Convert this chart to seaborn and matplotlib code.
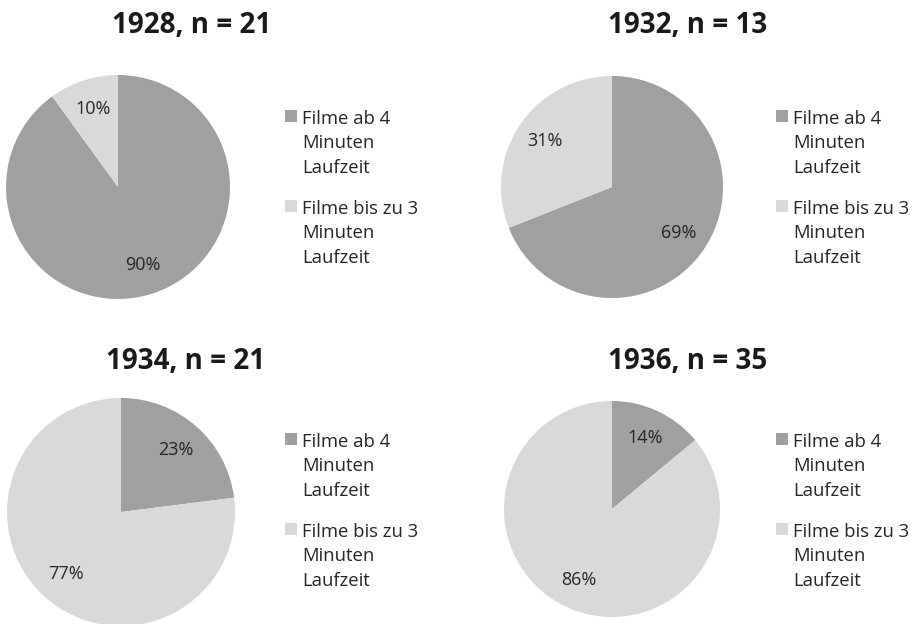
import matplotlib
matplotlib.use("Agg")
import matplotlib.pyplot as plt
from matplotlib.patches import Rectangle
import seaborn as sns

# ---- data ----
years = ["1928", "1932", "1934", "1936"]
n_values = [21, 13, 21, 35]
long_films_pct = [90, 69, 23, 14]    # Filme ab 4 Minuten Laufzeit
short_films_pct = [10, 31, 77, 86]   # Filme bis zu 3 Minuten Laufzeit
categories = ["Filme ab 4\nMinuten\nLaufzeit", "Filme bis zu 3\nMinuten\nLaufzeit"]

# ---- style ----
sns.set_theme(style="white")
plt.rcParams["font.family"] = ["Open Sans", "DejaVu Sans"]
colors = sns.color_palette(["#a0a0a0", "#d9d9d9"])
TEXT = "#262626"

W, H = 919, 624
fig = plt.figure(figsize=(W / 100, H / 100), dpi=100)
fig.patch.set_facecolor("white")

def fx(x):
    return x / W

def fy(y):
    return 1 - y / H

LINE = 25.5  # legend line step in px

# layout per panel (pixel positions): pie centre, radius, title centre/baseline, legend x, legend baseline
panels = [
    dict(cx=118, cy=187, r=112, tx=192, ty=33, lx=285, ly=122),
    dict(cx=612, cy=187, r=111, tx=688, ty=33, lx=776, ly=122),
    dict(cx=121, cy=512, r=114, tx=186, ty=369, lx=285, ly=445),
    dict(cx=612, cy=509, r=108, tx=688, ty=369, lx=776, ly=445),
]

for i, p in enumerate(panels):
    cx, cy, r = p["cx"], p["cy"], p["r"]
    ax = fig.add_axes([fx(cx - r), fy(cy + r), 2 * r / W, 2 * r / H])
    vals = [long_films_pct[i], short_films_pct[i]]
    wedges, texts, autotexts = ax.pie(
        vals, colors=colors, startangle=90, counterclock=False,
        autopct="%.0f%%", pctdistance=0.73, radius=1,
        wedgeprops=dict(linewidth=0),
        textprops=dict(fontsize=13, color=TEXT),
    )
    ax.set_xlim(-1, 1)
    ax.set_ylim(-1, 1)
    ax.set_aspect("equal")
    ax.axis("off")

    fig.text(fx(p["tx"]), fy(p["ty"]), f"{years[i]}, n = {n_values[i]}",
             ha="center", va="baseline", fontsize=20, fontweight="bold", color="#1a1a1a")

    # legend (square aligned with first text line)
    for j, lab in enumerate(categories):
        base = p["ly"] + j * 90
        fig.patches.append(Rectangle((fx(p["lx"]), fy(base)), 12 / W, 12 / H,
                                     transform=fig.transFigure, facecolor=colors[j],
                                     edgecolor="none"))
        nlines = lab.count("\n")
        fig.text(fx(p["lx"] + 17), fy(base + nlines * LINE), lab, ha="left", va="baseline",
                 fontsize=13.3, color=TEXT, linespacing=1.48)

fig.savefig("out.png", dpi=100, facecolor="white")
